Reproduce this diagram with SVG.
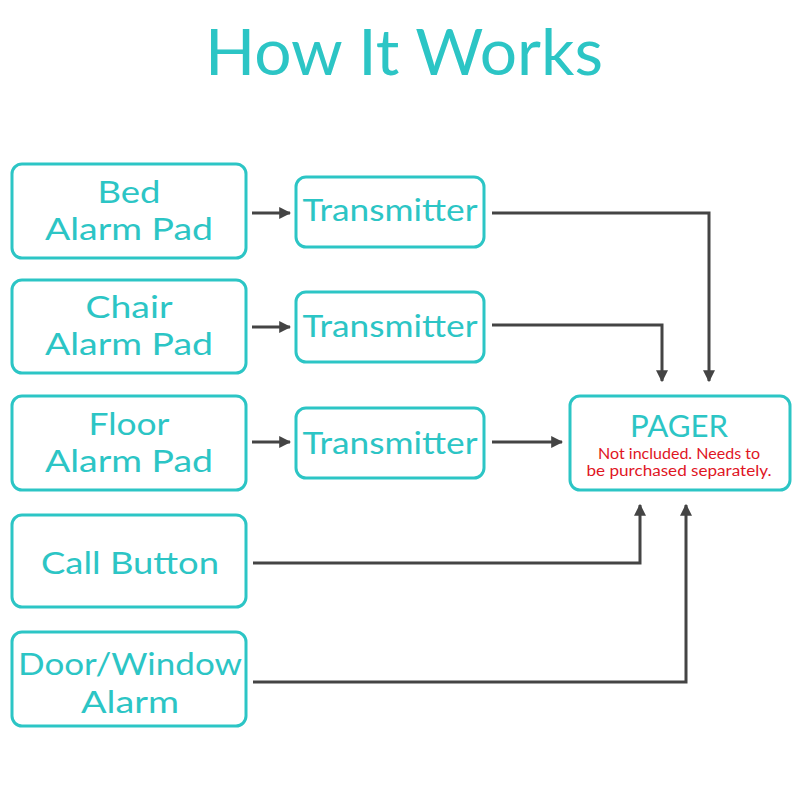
<svg xmlns="http://www.w3.org/2000/svg" width="800" height="800" viewBox="0 0 800 800">
<defs>
<style>
.box{fill:#fff;stroke:#2cc5c5;stroke-width:3}
.t{font-family:"Lato","Liberation Sans",sans-serif;fill:#2cc5c5;text-anchor:middle}
.lbl{font-size:30px}
.red{font-family:"Lato","Liberation Sans",sans-serif;fill:#e0151f;font-size:14.5px;text-anchor:middle}
.c{fill:none;stroke:#444;stroke-width:3}
</style>
<marker id="ah" viewBox="0 0 10 10" refX="9" refY="5" markerWidth="4" markerHeight="4" markerUnits="strokeWidth" orient="auto">
<path d="M0,0 L10,5 L0,10 Z" fill="#444"/>
</marker>
</defs>
<rect width="800" height="800" fill="#fff"/>
<text class="t" x="404" y="75" font-size="63" textLength="398" lengthAdjust="spacingAndGlyphs">How It Works</text>

<g id="bed"><rect class="box" x="12" y="164" width="234" height="94" rx="10"/><text class="t lbl" x="129" y="203" textLength="63" lengthAdjust="spacingAndGlyphs">Bed</text><text class="t lbl" x="129" y="240" textLength="168" lengthAdjust="spacingAndGlyphs">Alarm Pad</text></g>
<g id="chair"><rect class="box" x="12" y="280" width="234" height="93" rx="10"/><text class="t lbl" x="129" y="318" textLength="87" lengthAdjust="spacingAndGlyphs">Chair</text><text class="t lbl" x="129" y="355" textLength="168" lengthAdjust="spacingAndGlyphs">Alarm Pad</text></g>
<g id="floor"><rect class="box" x="12" y="396" width="234" height="94" rx="10"/><text class="t lbl" x="129" y="435" textLength="81" lengthAdjust="spacingAndGlyphs">Floor</text><text class="t lbl" x="129" y="472" textLength="168" lengthAdjust="spacingAndGlyphs">Alarm Pad</text></g>
<g id="call"><rect class="box" x="12" y="515" width="234" height="92" rx="10"/><text class="t lbl" x="130" y="574" textLength="178" lengthAdjust="spacingAndGlyphs">Call Button</text></g>
<g id="door"><rect class="box" x="12" y="632" width="234" height="94" rx="10"/><text class="t lbl" x="130" y="675" textLength="224" lengthAdjust="spacingAndGlyphs">Door/Window</text><text class="t lbl" x="130" y="713" textLength="98" lengthAdjust="spacingAndGlyphs">Alarm</text></g>

<g id="tx1"><rect class="box" x="296" y="177" width="188" height="70" rx="10"/><text class="t lbl" x="390" y="221" textLength="175" lengthAdjust="spacingAndGlyphs">Transmitter</text></g>
<g id="tx2"><rect class="box" x="296" y="292" width="188" height="70" rx="10"/><text class="t lbl" x="390" y="337" textLength="175" lengthAdjust="spacingAndGlyphs">Transmitter</text></g>
<g id="tx3"><rect class="box" x="296" y="408" width="188" height="70" rx="10"/><text class="t lbl" x="390" y="454" textLength="175" lengthAdjust="spacingAndGlyphs">Transmitter</text></g>

<g id="pager"><rect class="box" x="570" y="396" width="220" height="94" rx="10"/><text class="t" x="679" y="437" font-size="30" textLength="98" lengthAdjust="spacingAndGlyphs">PAGER</text><text class="red" x="679" y="459" textLength="162" lengthAdjust="spacingAndGlyphs">Not included. Needs to</text><text class="red" x="679" y="476" textLength="185" lengthAdjust="spacingAndGlyphs">be purchased separately.</text></g>

<g id="connectors">
<path class="c" d="M252,213 H290" marker-end="url(#ah)"/>
<path class="c" d="M252,327 H290" marker-end="url(#ah)"/>
<path class="c" d="M252,442 H290" marker-end="url(#ah)"/>
<path class="c" d="M492,213 H709 V381" marker-end="url(#ah)"/>
<path class="c" d="M492,325 H662 V381" marker-end="url(#ah)"/>
<path class="c" d="M492,442 H562" marker-end="url(#ah)"/>
<path class="c" d="M253,563 H640 V505" marker-end="url(#ah)"/>
<path class="c" d="M253,682 H686 V505" marker-end="url(#ah)"/>
</g>
</svg>
